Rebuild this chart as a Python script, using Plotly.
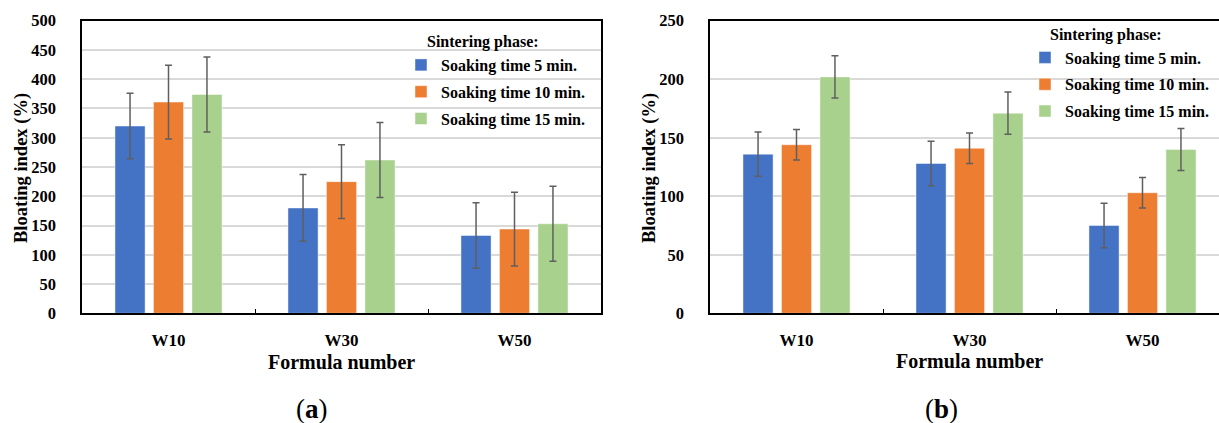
import plotly.graph_objects as go

W, H = 1219, 423

categories = ["W10", "W30", "W50"]
series_names = ["Soaking time 5 min.", "Soaking time 10 min.", "Soaking time 15 min."]
colors = ["#4472C4", "#ED7D31", "#A9D18E"]

# Panel (a)
a_5 = [320, 180, 133]
a_10 = [361, 225, 144]
a_15 = [374, 262, 153]
a_err_5 = [56, 57, 56]
a_err_10 = [63, 63, 63]
a_err_15 = [64, 64, 64]

# Panel (b)
b_5 = [136, 128, 75]
b_10 = [144, 141, 103]
b_15 = [202, 171, 140]
b_err_5 = [19, 19, 19]
b_err_10 = [13, 13, 13]
b_err_15 = [18, 18, 18]

FONT = "Liberation Serif"

def px_x(p):
    return p / W

def px_y(p):
    return 1 - p / H

fig = go.Figure()

panel_a = [(a_5, a_err_5), (a_10, a_err_10), (a_15, a_err_15)]
panel_b = [(b_5, b_err_5), (b_10, b_err_10), (b_15, b_err_15)]

for i, (vals, err) in enumerate(panel_a):
    fig.add_trace(go.Bar(
        x=categories, y=vals, name=series_names[i],
        marker=dict(color=colors[i], line=dict(color="rgba(255,255,255,0.45)", width=1)),
        error_y=dict(type="data", array=err, visible=True, color="#5f5f5f", thickness=1.5, width=3.5),
        xaxis="x", yaxis="y", legend="legend", legendgroup="a%d" % i,
    ))

for i, (vals, err) in enumerate(panel_b):
    fig.add_trace(go.Bar(
        x=categories, y=vals, name=series_names[i],
        marker=dict(color=colors[i], line=dict(color="rgba(255,255,255,0.45)", width=1)),
        error_y=dict(type="data", array=err, visible=True, color="#5f5f5f", thickness=1.5, width=3.5),
        xaxis="x2", yaxis="y2", legend="legend2", legendgroup="b%d" % i,
    ))

ydom = [px_y(313.3), px_y(20.7)]
cat_px = 173.0

axis_common_x = dict(
    type="category", showline=True, linecolor="black", linewidth=1.5,
    ticks="inside", tickson="boundaries", ticklen=5, tickcolor="black", tickwidth=1.2,
    tickfont=dict(family=FONT, size=17, color="black", weight="bold"),
    ticklabelstandoff=11, showgrid=False, zeroline=False, fixedrange=True, automargin=False,
)
axis_common_y = dict(
    showline=True, linecolor="black", linewidth=1.5, ticks="", dtick=50,
    showgrid=True, gridcolor="#d9d9d9", gridwidth=1.5, zeroline=False,
    tickfont=dict(family=FONT, size=16.5, color="black", weight="bold"),
    ticklabelstandoff=21, automargin=False, fixedrange=True,
)

fig.update_layout(
    width=W, height=H, margin=dict(l=0, r=0, t=0, b=0, autoexpand=False),
    paper_bgcolor="white", plot_bgcolor="white",
    barmode="group", bargap=0.333, bargroupgap=0.217,
    xaxis=dict(domain=[px_x(82), px_x(601)], anchor="y", range=[-0.5, 2.5], mirror=True, **axis_common_x),
    yaxis=dict(domain=ydom, anchor="x", range=[0, 500], mirror=True, **axis_common_y),
    xaxis2=dict(domain=[px_x(710), 1.0], anchor="y2", range=[-0.5, -0.5 + (W - 710) / cat_px], mirror=True, **axis_common_x),
    yaxis2=dict(domain=ydom, anchor="x2", range=[0, 250], mirror=False, **axis_common_y),
    legend=dict(x=px_x(401), y=px_y(48), xanchor="left", yanchor="top",
                font=dict(family=FONT, size=16, color="black", weight="bold"),
                traceorder="grouped", tracegroupgap=3, bgcolor="rgba(0,0,0,0)"),
    legend2=dict(x=px_x(1025), y=px_y(40.5), xanchor="left", yanchor="top",
                 font=dict(family=FONT, size=16, color="black", weight="bold"),
                 traceorder="grouped", tracegroupgap=3, bgcolor="rgba(0,0,0,0)"),
    showlegend=True,
)

ann_font = dict(family=FONT, size=16, color="black", weight="bold")
fig.add_annotation(text="Sintering phase:", x=px_x(425), y=px_y(41.7), xref="paper", yref="paper",
                   xanchor="left", yanchor="middle", showarrow=False, font=ann_font)
fig.add_annotation(text="Sintering phase:", x=px_x(1048), y=px_y(35), xref="paper", yref="paper",
                   xanchor="left", yanchor="middle", showarrow=False, font=ann_font)

xtitle_font = dict(family=FONT, size=20, color="black", weight="bold")
ytitle_font = dict(family=FONT, size=18.5, color="black", weight="bold")
fig.add_annotation(text="Formula number", x="W30", y=px_y(362), xref="x", yref="paper",
                   xanchor="center", yanchor="middle", showarrow=False, font=xtitle_font)
fig.add_annotation(text="Formula number", x="W30", y=px_y(361), xref="x2", yref="paper",
                   xanchor="center", yanchor="middle", showarrow=False, font=xtitle_font)
fig.add_annotation(text="Bloating index (%)", x=px_x(21), y=px_y(168), xref="paper", yref="paper",
                   xanchor="center", yanchor="middle", textangle=-90, showarrow=False, font=ytitle_font)
fig.add_annotation(text="Bloating index (%)", x=px_x(649), y=px_y(168), xref="paper", yref="paper",
                   xanchor="center", yanchor="middle", textangle=-90, showarrow=False, font=ytitle_font)

label_font = dict(family=FONT, size=27, color="black")
fig.add_annotation(text="(<b>a</b>)", x=px_x(312), y=px_y(409), xref="paper", yref="paper",
                   xanchor="center", yanchor="middle", showarrow=False, font=label_font)
fig.add_annotation(text="(<b>b</b>)", x=px_x(941), y=px_y(409), xref="paper", yref="paper",
                   xanchor="center", yanchor="middle", showarrow=False, font=label_font)

fig.write_html("out.html")
